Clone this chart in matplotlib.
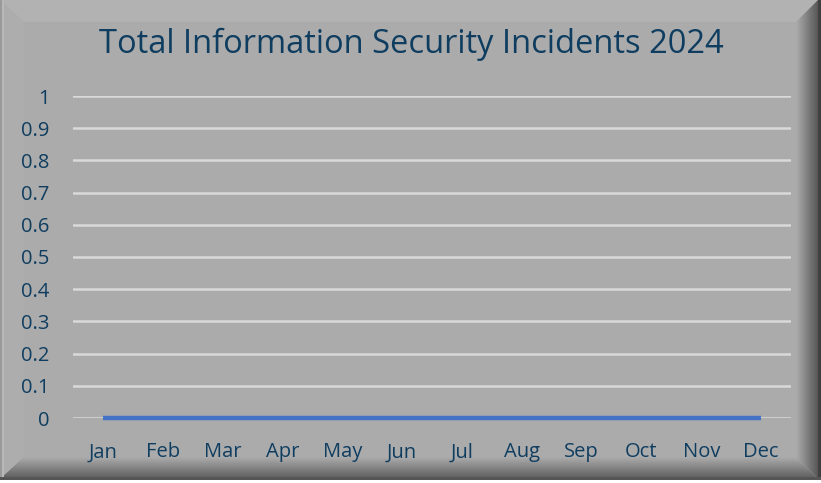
import matplotlib
matplotlib.use("Agg")
import matplotlib.pyplot as plt
import numpy as np
from matplotlib.patches import Polygon

months = ["Jan", "Feb", "Mar", "Apr", "May", "Jun", "Jul", "Aug", "Sep", "Oct", "Nov", "Dec"]
incidents = [0, 0, 0, 0, 0, 0, 0, 0, 0, 0, 0, 0]
y_ticks = [0, 0.1, 0.2, 0.3, 0.4, 0.5, 0.6, 0.7, 0.8, 0.9, 1]
y_labels = ["0", "0.1", "0.2", "0.3", "0.4", "0.5", "0.6", "0.7", "0.8", "0.9", "1"]
title = "Total Information Security Incidents 2024"

W, H = 821, 483
fig = plt.figure(figsize=(W / 100, H / 100), dpi=100)
fig.patch.set_facecolor("white")

# background frame axes in pixel coordinates (origin top-left)
bg = fig.add_axes([0, 0, 1, 1])
bg.set_xlim(0, W)
bg.set_ylim(H, 0)
bg.axis("off")
bg.set_zorder(0)

face = 0xab / 255
X1, Y1 = 818, 479  # outer right / bottom of the frame
bw = 22

def gray(v):
    return (v, v, v)

bg.add_patch(Polygon([(0, 0), (X1, 0), (X1, Y1), (0, Y1)], closed=True, fc=gray(face), ec="none", zorder=1))
# top bevel (slightly lighter)
bg.add_patch(Polygon([(0, 0), (X1, 0), (X1 - bw, bw), (bw + 2, bw)], closed=True,
                     fc=gray(0xb2 / 255), ec="none", zorder=2))
# left bevel
bg.add_patch(Polygon([(0, 0), (bw + 2, bw), (bw + 2, Y1 - bw), (0, Y1)], closed=True,
                     fc=gray(0xad / 255), ec="none", zorder=2))

# right bevel gradient
grad_r = np.linspace(face, 0.30, 64)[None, :]
img = bg.imshow(np.repeat(grad_r, 2, axis=0), cmap="gray", vmin=0, vmax=1, aspect="auto",
                extent=(X1 - bw, X1 + 3, Y1, 0), interpolation="bilinear", zorder=3)
clip = Polygon([(X1 - bw, bw), (X1 + 3, -3), (X1 + 3, Y1 + 3), (X1 - bw, Y1 - bw)], closed=True,
               transform=bg.transData)
img.set_clip_path(clip)

# bottom bevel gradient
grad_b = np.linspace(face, 0.36, 64)[:, None]
img2 = bg.imshow(np.repeat(grad_b, 2, axis=1), cmap="gray", vmin=0, vmax=1, aspect="auto",
                 extent=(0, X1, Y1, Y1 - bw), interpolation="bilinear", zorder=4)
clip2 = Polygon([(0, Y1), (bw + 2, Y1 - bw), (X1 - bw, Y1 - bw), (X1, Y1)], closed=True,
                transform=bg.transData)
img2.set_clip_path(clip2)
bg.set_xlim(0, W)
bg.set_ylim(H, 0)

# outer edge lines
bg.add_patch(Polygon([(0, 0), (2, 0), (2, Y1), (0, Y1)], closed=True, fc=gray(0x9a / 255), ec="none", zorder=5))
bg.add_patch(Polygon([(2, 0), (4, 0), (4, Y1), (2, Y1)], closed=True, fc=gray(0xb8 / 255), ec="none", zorder=5))
bg.add_patch(Polygon([(X1, 0), (W, 0), (W, Y1), (X1, Y1)], closed=True, fc=gray(0x40 / 255), ec="none", zorder=5))
bg.add_patch(Polygon([(0, Y1 - 2), (W, Y1 - 2), (W, Y1 + 1), (0, Y1 + 1)], closed=True, fc=gray(0x55 / 255), ec="none", zorder=5))

ax = fig.add_axes([73 / W, 1 - 418 / H, (791 - 73) / W, (418 - 96) / H])
ax.set_facecolor("none")
ax.set_zorder(5)

text_color = "#0f3d60"
font = "Open Sans"
ax.set_ylim(0, 1)
ax.set_xlim(-0.5, len(months) - 0.5)
ax.set_yticks(y_ticks)
ax.set_yticklabels(y_labels, fontsize=14.5, color=text_color, family=font)
ax.set_xticks(range(len(months)))
ax.set_xticklabels(months, fontsize=14.5, color=text_color, family=font)
ax.tick_params(axis="y", length=0, pad=17)
ax.tick_params(axis="x", length=0, pad=17.5)
for s in ax.spines.values():
    s.set_visible(False)
for t in y_ticks:
    ax.axhline(t, color="#d9d9d9", lw=1.8, zorder=1)
ax.plot(range(len(months)), incidents, color="#4472c4", lw=3.2, solid_capstyle="butt", zorder=3,
        clip_on=False)

fig.text(411 / W, 1 - 44 / H, title, ha="center", va="center", fontsize=23.5,
         color=text_color, family=font)

fig.savefig("out.png", dpi=100, facecolor=fig.get_facecolor())
